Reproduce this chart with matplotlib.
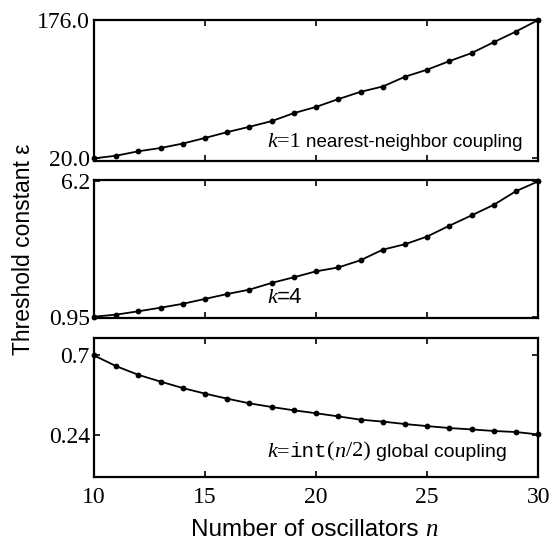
import matplotlib
matplotlib.use("Agg")
import matplotlib.pyplot as plt
import numpy as np
from matplotlib.offsetbox import TextArea, HPacker, AnchoredOffsetbox

n = list(range(10, 31))
eps_k1 = [20, 23, 28, 31.7, 36.7, 43, 49.6, 55.6, 62, 71, 78, 86.8, 95, 101,
          112, 120, 129.6, 138.7, 151, 163, 176]
eps_k4 = [0.95, 1.03, 1.16, 1.30, 1.45, 1.64, 1.83, 2.00, 2.26, 2.48, 2.71,
          2.86, 3.14, 3.55, 3.76, 4.06, 4.48, 4.88, 5.29, 5.82, 6.2]
eps_glob = [0.70, 0.638, 0.588, 0.549, 0.512, 0.480, 0.451, 0.424, 0.403,
            0.384, 0.367, 0.349, 0.330, 0.319, 0.305, 0.293, 0.282, 0.274,
            0.265, 0.259, 0.245]

yticks1 = [20.0, 176.0]
yticklabels1 = ["20.0", "176.0"]
yticks2 = [0.95, 6.2]
yticklabels2 = ["0.95", "6.2"]
yticks3 = [0.24, 0.7]
yticklabels3 = ["0.24", "0.7"]
xticks = [10, 15, 20, 25, 30]
xticklabels = ["10", "15", "20", "25", "30"]

SERIF = "Liberation Serif"
SANS = "Liberation Sans"

fig = plt.figure(figsize=(5.56, 5.49), dpi=100)
left, width = 0.169, 0.799
ax1 = fig.add_axes([left, 0.7067, width, 0.2569])
ax2 = fig.add_axes([left, 0.4208, width, 0.2512])
ax3 = fig.add_axes([left, 0.1311, width, 0.2532])

panels = [
    (ax1, eps_k1, (17.0, 176.0), yticks1, yticklabels1),
    (ax2, eps_k4, (0.90, 6.25), yticks2, yticklabels2),
    (ax3, eps_glob, (0.0, 0.80), yticks3, yticklabels3),
]

for ax, y, ylim, yt, ytl in panels:
    ax.plot(n, y, color="black", lw=1.3, marker="o", ms=4.2,
            markeredgewidth=0, clip_on=False, zorder=3)
    ax.set_xlim(10, 30)
    ax.set_ylim(*ylim)
    ax.set_yticks(yt)
    ax.set_yticklabels(ytl, fontfamily=SERIF, fontsize=17)
    ax.set_xticks(xticks)
    ax.tick_params(axis="both", direction="in", length=4, width=1.2,
                   top=True, right=True, pad=3)
    for sp in ax.spines.values():
        sp.set_linewidth(1.6)
    if ax is not ax3:
        ax.set_xticklabels([])

ax3.set_xticklabels(xticklabels, fontfamily=SERIF, fontsize=17)
ax3.tick_params(axis="x", pad=7)


def label(ax, parts, x, y):
    boxes = [TextArea(t, textprops=p) for t, p in parts]
    pack = HPacker(children=boxes, align="baseline", pad=0, sep=0)
    ab = AnchoredOffsetbox(loc="lower left", child=pack, pad=0, borderpad=0,
                           frameon=False, bbox_to_anchor=(x, y),
                           bbox_transform=ax.transAxes)
    ax.add_artist(ab)


kp = dict(family=SERIF, style="italic", size=16)
rp = dict(family=SERIF, size=16)
sp_ = dict(family=SANS, size=13.5)
tp = dict(family="Liberation Mono", size=15)

label(ax1, [("k", kp), ("=1 ", rp), ("nearest-neighbor coupling", sp_)], 0.39, 0.065)
label(ax2, [("k", kp), ("=4", dict(family=SANS, size=16))], 0.39, 0.075)
label(ax3, [("k", kp), ("=", rp), ("int", tp), ("(", rp), ("n", kp), ("/2) ", rp),
            ("global coupling", dict(family=SANS, size=14))], 0.39, 0.11)

fig.text(0.043, 0.545, "Threshold constant ε", rotation=90, ha="center",
         va="center", fontfamily=SANS, fontsize=16.5)

xl = [TextArea("Number of oscillators ", textprops=dict(family=SANS, size=17.5)),
      TextArea("n", textprops=dict(family=SERIF, style="italic", size=18))]
xpack = HPacker(children=xl, align="baseline", pad=0, sep=0)
xab = AnchoredOffsetbox(loc="center", child=xpack, pad=0, borderpad=0,
                        frameon=False, bbox_to_anchor=(0.565, 0.035),
                        bbox_transform=fig.transFigure)
fig.add_artist(xab)

fig.savefig("out.png", dpi=100)
